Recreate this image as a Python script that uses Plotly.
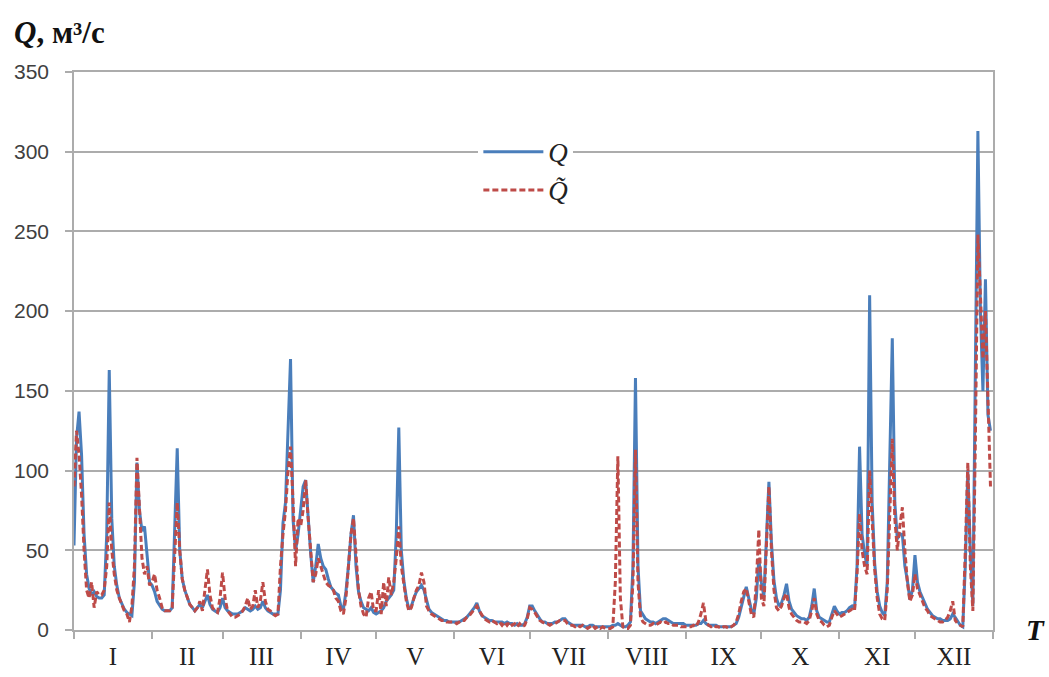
import plotly.graph_objects as go

# Month boundaries (day of year) and labels
month_starts = [0, 31, 59, 90, 120, 151, 181, 212, 243, 273, 304, 334, 365]
month_labels = ["I", "II", "III", "IV", "V", "VI", "VII", "VIII", "IX", "X", "XI", "XII"]

# Observed discharge Q, m3/s (daily, by month)
q_jan = [53, 120, 137, 110, 60, 35, 26, 22, 24, 21, 20, 20, 22, 60, 163, 70, 40, 28, 20, 16,
         13, 11, 10, 9, 30, 105, 75, 62, 65, 45, 30]
q_feb = [28, 24, 18, 15, 13, 12, 12, 12, 14, 60, 114, 50, 32, 25, 20, 16, 14, 12, 14, 16,
         14, 18, 22, 16, 13, 12, 11, 14]
q_mar = [20, 14, 12, 11, 10, 10, 10, 11, 12, 14, 13, 12, 13, 15, 13, 14, 18, 14, 12, 11,
         10, 10, 10, 25, 67, 80, 120, 170, 69, 50, 60]
q_apr = [77, 90, 94, 70, 48, 30, 40, 54, 45, 40, 38, 32, 27, 25, 23, 22, 15, 13, 24, 40,
         60, 72, 40, 24, 18, 14, 13, 12, 14, 11]
q_may = [10, 11, 12, 14, 18, 20, 22, 25, 60, 127, 50, 31, 20, 13, 15, 20, 24, 26, 28, 25,
         18, 13, 11, 10, 9, 8, 7, 6, 6, 5, 5]
q_jun = [5, 5, 5, 6, 7, 8, 10, 12, 14, 17, 12, 9, 8, 7, 6, 6, 5, 5, 5, 5,
         4, 5, 4, 4, 3, 4, 3, 3, 4, 8]
q_jul = [15, 15, 12, 9, 7, 5, 5, 4, 4, 4, 5, 5, 6, 7, 7, 5, 4, 3, 3, 3,
         3, 3, 2, 2, 3, 3, 2, 2, 2, 2, 2]
q_aug = [2, 2, 3, 3, 4, 3, 2, 2, 3, 5, 40, 158, 40, 12, 9, 7, 6, 5, 5, 4,
         5, 6, 7, 7, 6, 5, 4, 4, 4, 4, 4]
q_sep = [3, 3, 3, 3, 3, 4, 4, 6, 4, 3, 3, 3, 3, 2, 2, 2, 2, 2, 2, 3,
         4, 8, 15, 22, 27, 20, 13, 10, 20, 45]
q_oct = [30, 21, 60, 93, 55, 31, 20, 15, 17, 22, 29, 18, 13, 11, 9, 8, 7, 7, 6, 8,
         15, 26, 12, 8, 7, 6, 5, 5, 10, 15, 12]
q_nov = [10, 11, 11, 12, 14, 15, 13, 40, 115, 60, 48, 40, 210, 80, 42, 24, 15, 11, 9, 30,
         100, 183, 80, 57, 60, 60, 40, 31, 19, 25]
q_dec = [47, 30, 24, 20, 16, 13, 11, 9, 8, 7, 7, 6, 6, 6, 7, 10, 8, 5, 3, 2,
         40, 100, 50, 15, 150, 313, 200, 150, 220, 135, 125]

# Modelled discharge Q~, m3/s (daily, by month)
r_jan = [90, 125, 110, 85, 50, 25, 20, 30, 14, 24, 22, 22, 25, 40, 80, 50, 35, 25, 20, 16,
         12, 10, 5, 15, 40, 108, 80, 45, 35, 40, 28]
r_feb = [30, 35, 25, 20, 14, 12, 12, 12, 14, 45, 80, 50, 32, 25, 20, 16, 14, 12, 14, 18,
         12, 25, 38, 22, 14, 12, 11, 20]
r_mar = [36, 20, 12, 10, 8, 8, 9, 10, 12, 15, 20, 13, 15, 25, 14, 18, 30, 18, 13, 12,
         10, 9, 10, 40, 60, 75, 100, 115, 80, 40, 70]
r_apr = [65, 75, 94, 70, 48, 30, 35, 45, 40, 35, 30, 28, 27, 25, 20, 18, 12, 10, 20, 40,
         60, 70, 45, 25, 15, 10, 8, 20, 24, 12]
r_may = [12, 25, 10, 30, 15, 33, 22, 30, 45, 65, 40, 28, 18, 12, 14, 20, 25, 28, 36, 30,
         15, 12, 10, 9, 8, 7, 6, 6, 5, 5, 5]
r_jun = [5, 4, 5, 6, 6, 8, 9, 11, 13, 15, 12, 9, 7, 6, 5, 6, 5, 4, 5, 3,
         5, 3, 5, 3, 4, 2, 4, 2, 3, 7]
r_jul = [14, 13, 11, 8, 6, 5, 4, 4, 3, 4, 4, 5, 6, 6, 6, 4, 3, 3, 2, 3,
         2, 3, 2, 1, 2, 3, 1, 2, 1, 2, 1]
r_aug = [1, 1, 2, 30, 109, 20, 2, 1, 1, 3, 30, 113, 30, 8, 5, 4, 3, 3, 4, 3,
         4, 5, 4, 5, 4, 4, 3, 3, 3, 2, 2]
r_sep = [2, 2, 2, 3, 2, 5, 10, 17, 5, 3, 2, 3, 2, 2, 1, 2, 2, 1, 2, 3,
         5, 10, 18, 24, 26, 18, 10, 8, 30, 63]
r_oct = [20, 15, 50, 90, 50, 25, 14, 12, 15, 20, 23, 14, 10, 8, 6, 5, 5, 5, 4, 6,
         12, 20, 10, 6, 5, 3, 2, 3, 8, 12, 10]
r_nov = [8, 9, 10, 11, 12, 13, 12, 35, 73, 50, 40, 35, 100, 65, 38, 20, 10, 7, 6, 25,
         80, 120, 70, 50, 65, 77, 50, 30, 18, 22]
r_dec = [35, 26, 22, 18, 14, 12, 9, 8, 7, 6, 5, 5, 6, 8, 12, 18, 6, 4, 3, 2,
         50, 105, 40, 12, 120, 248, 210, 170, 200, 150, 90]

q_obs = q_jan + q_feb + q_mar + q_apr + q_may + q_jun + q_jul + q_aug + q_sep + q_oct + q_nov + q_dec
q_mod = r_jan + r_feb + r_mar + r_apr + r_may + r_jun + r_jul + r_aug + r_sep + r_oct + r_nov + r_dec
days = list(range(len(q_obs)))

y_ticks = [0, 50, 100, 150, 200, 250, 300, 350]

serif = "Liberation Serif, Times New Roman, serif"
sans = "Liberation Sans, Arial, sans-serif"
grid_col = "#acacac"

fig = go.Figure()
fig.add_trace(go.Scatter(
    x=days, y=q_obs, mode="lines", name="<i>Q</i>",
    line=dict(color="#4a7ebb", width=3),
))
fig.add_trace(go.Scatter(
    x=days, y=q_mod, mode="lines", name="<i>Q&#771;</i>",
    line=dict(color="#be4b48", width=3, dash="6px,3px"),
))

month_mids = [(month_starts[i] + month_starts[i + 1]) / 2 for i in range(12)]

fig.update_layout(
    width=1049, height=677,
    margin=dict(l=74, r=56, t=72, b=47),
    paper_bgcolor="white", plot_bgcolor="white",
    showlegend=True,
    legend=dict(
        x=0.44, y=0.9, xanchor="left", yanchor="top",
        bgcolor="white", borderwidth=0,
        font=dict(family=serif, size=27, color="#222"),
        itemwidth=60, tracegroupgap=0,
    ),
    xaxis=dict(
        range=[0, 365], automargin=False,
        tickmode="array", tickvals=month_mids, ticktext=month_labels,
        ticks="", ticklabelstandoff=3,
        tickfont=dict(family=serif, size=25, color="#222"),
        showgrid=False, zeroline=False,
        showline=True, linecolor=grid_col, linewidth=1.5, mirror=True,
        minor=dict(tickmode="array", tickvals=month_starts, ticks="outside",
                   ticklen=7, tickcolor=grid_col, tickwidth=1.5, showgrid=False),
    ),
    yaxis=dict(
        range=[0, 350], automargin=False,
        tickmode="array", tickvals=y_ticks,
        ticks="outside", ticklen=7, tickcolor=grid_col, tickwidth=1.5,
        ticklabelstandoff=12,
        tickfont=dict(family=sans, size=21, color="#404040"),
        showgrid=True, gridcolor=grid_col, gridwidth=1.5,
        zeroline=False,
        showline=True, linecolor=grid_col, linewidth=1.5, mirror=True,
    ),
    annotations=[
        dict(text="<b><i>Q</i>, м³/с</b>", xref="paper", yref="paper",
             x=-0.068, y=1.07, xanchor="left", yanchor="middle", showarrow=False,
             font=dict(family=serif, size=31, color="#111")),
        dict(text="<b><i>T</i></b>", xref="paper", yref="paper",
             x=1.046, y=0.0, xanchor="center", yanchor="middle", showarrow=False,
             font=dict(family=serif, size=29, color="#111")),
    ],
)

fig.write_html("out.html")
